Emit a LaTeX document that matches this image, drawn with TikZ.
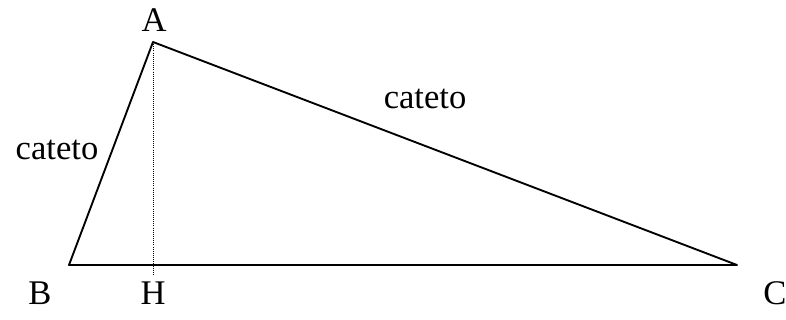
\documentclass[tikz,border=0pt]{standalone}
\usepackage{fontspec}
\setmainfont{Liberation Serif}
\usepackage{tikz}

\begin{document}
\begin{tikzpicture}[
    x=0.03cm, y=-0.03cm,
    side/.style={line width=1.6pt, line join=round},
    height/.style={line width=0.8pt, densely dotted},
    lbl/.style={inner sep=0pt, anchor=base, font=\fontsize{29.5}{30}\selectfont}
]
    \useasboundingbox (0,0) rectangle (786,320);

    \coordinate (A) at (153,42);
    \coordinate (B) at (69,265);
    \coordinate (C) at (737,265);
    \coordinate (H) at (153,265);
    \coordinate (foot) at (153,276);

    \draw[side] (B) -- (A) -- (C) -- cycle;
    \draw[height] (A) -- (foot);

    \node[lbl] (labA) at (154,32) {A};
    \node[lbl] (labB) at (40,305) {B};
    \node[lbl] (labH) at (153,305) {H};
    \node[lbl] (labC) at (775,305) {C};
    \node[lbl] (leg1) at (57,160) {cateto};
    \node[lbl] (leg2) at (425,109) {cateto};
\end{tikzpicture}
\end{document}
